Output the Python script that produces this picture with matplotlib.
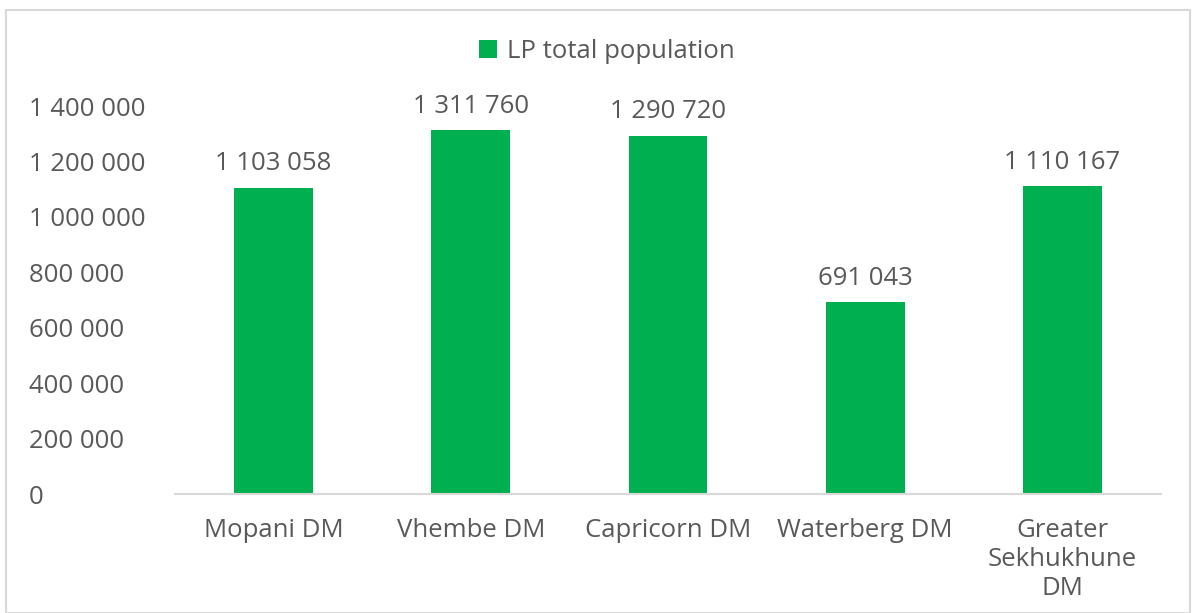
import matplotlib
matplotlib.use("Agg")
import matplotlib.pyplot as plt
from matplotlib.patches import Rectangle
from matplotlib.ticker import FuncFormatter

categories = ["Mopani DM", "Vhembe DM", "Capricorn DM", "Waterberg DM", "Greater\nSekhukhune\nDM"]
population = [1103058, 1311760, 1290720, 691043, 1110167]
yticks = [0, 200000, 400000, 600000, 800000, 1000000, 1200000, 1400000]
series_name = "LP total population"

GREEN = "#00B050"
TEXT = "#595959"
FS = 18.5

plt.rcParams['font.family'] = ['Open Sans', 'DejaVu Sans']

def fmt(v, pos=None):
    return f"{int(round(v)):,}".replace(",", " ")

fig = plt.figure(figsize=(11.97, 6.13), dpi=100)
ax = fig.add_axes([175/1197, 1-494/613, (1161-175)/1197, (494-106)/613])

x = list(range(len(categories)))
bars = ax.bar(x, population, width=0.4, color=GREEN, label=series_name, zorder=2)

ax.set_xlim(-0.5, len(categories)-0.5)
ax.set_ylim(0, 1400000)
ax.set_yticks(yticks)
ax.yaxis.set_major_formatter(FuncFormatter(fmt))
ax.set_xticks(x)
ax.set_xticklabels(categories, linespacing=1.22)

for s in ["top", "right", "left"]:
    ax.spines[s].set_visible(False)
ax.spines["bottom"].set_color("#D9D9D9")
ax.spines["bottom"].set_linewidth(1.5)
ax.tick_params(axis="both", length=0, labelsize=FS, labelcolor=TEXT)
ax.tick_params(axis="x", pad=17)
ax.yaxis.set_tick_params(pad=0)
for lbl in ax.get_yticklabels():
    lbl.set_horizontalalignment("left")
    lbl.set_transform(ax.get_yaxis_transform())
    lbl.set_x(-(175-29)/986)

for xi, v in zip(x, population):
    ax.annotate(fmt(v), (xi, v), xytext=(0, 8.5), textcoords="offset points",
                ha="center", va="bottom", fontsize=FS, color=TEXT)

leg = fig.legend(handles=[bars], labels=[series_name], loc="center",
                 bbox_to_anchor=(607/1197, 1-51/613), frameon=False,
                 fontsize=FS, handlelength=0.7, handleheight=0.7, handletextpad=0.4)
for t in leg.get_texts():
    t.set_color(TEXT)

fig.patches.append(Rectangle((6/1197, 0), (1190-6)/1197, 1-10/613, transform=fig.transFigure,
                             fill=False, edgecolor="#D9D9D9", linewidth=1.5))

fig.savefig("out.png", dpi=100)
